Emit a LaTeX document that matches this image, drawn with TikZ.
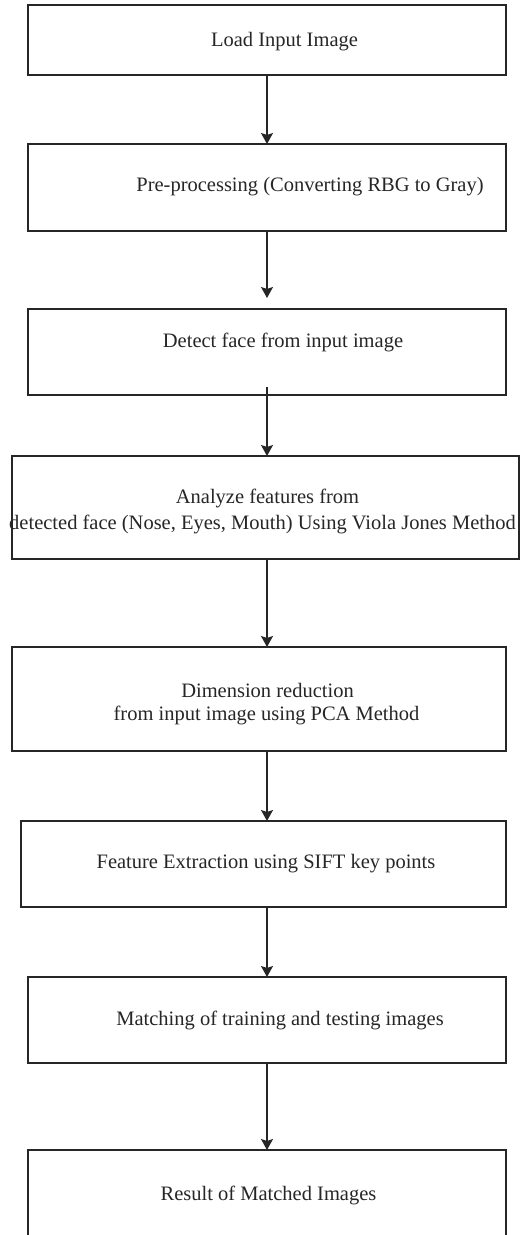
\documentclass[tikz,border=0pt]{standalone}
\usepackage{fontspec}
\setmainfont{Liberation Serif}
\usetikzlibrary{arrows.meta,calc}

\begin{document}
\begin{tikzpicture}[
  x=0.5pt, y=-0.5pt,
  stepbox/.style={draw=black!85, line width=0.7pt, rectangle, inner sep=0pt, outer sep=0pt},
  txt/.style={anchor=base, inner sep=0pt, text=black!85, font=\fontsize{10.25}{12}\selectfont},
  arr/.style={draw=black!85, line width=0.6pt, -{Stealth[length=5.5pt, width=6pt, inset=1pt]}}
]
% page area
\fill[white] (0,0) rectangle (520,1235);
\clip (0,0) rectangle (520,1235);

% axis of the connectors
\coordinate (ax) at (267,0);

% process boxes
\node[stepbox, minimum width=239pt,   minimum height=35pt]   (b1) at (267,40)     {};
\node[stepbox, minimum width=239pt,   minimum height=43.5pt] (b2) at (267,187.5)  {};
\node[stepbox, minimum width=239pt,   minimum height=43pt]   (b3) at (267,352)    {};
\node[stepbox, minimum width=253.5pt, minimum height=51.5pt] (b4) at (265.5,507.5){};
\node[stepbox, minimum width=247pt,   minimum height=52pt]   (b5) at (259,699)    {};
\node[stepbox, minimum width=242.5pt, minimum height=43pt]   (b6) at (263.5,864)  {};
\node[stepbox, minimum width=239pt,   minimum height=43pt]   (b7) at (267,1020)   {};
\node[stepbox, minimum width=239pt,   minimum height=50pt]   (b8) at (267,1200)   {};

% box texts
\node[txt] (t1)  at (284.5,47)  {Load Input Image};
\node[txt] (t2)  at (310,192)   {Pre-processing (Converting RBG to Gray)};
\node[txt] (t3)  at (283,348)   {Detect face from input image};
\node[txt] (t4a) at (267.5,503) {Analyze features from};
\node[txt] (t4b) at (262.5,529) {detected face (Nose, Eyes, Mouth) Using Viola Jones Method};
\node[txt] (t5a) at (267.5,697) {Dimension reduction};
\node[txt] (t5b) at (266.5,720) {from input image using PCA Method};
\node[txt] (t6)  at (266,868)   {Feature Extraction using SIFT key points};
\node[txt] (t7)  at (280,1025)  {Matching of training and testing images};
\node[txt] (t8)  at (268.5,1200){Result of Matched Images};

% connectors
\draw[arr] (b1.south -| ax) -- (b2.north -| ax);
\draw[arr] (b2.south -| ax) -- ($(b3.north -| ax)+(0,-11)$);
\draw[arr] ($(b3.south -| ax)+(0,-8)$) -- (b4.north -| ax);
\draw[arr] (b4.south -| ax) -- (b5.north -| ax);
\draw[arr] (b5.south -| ax) -- (b6.north -| ax);
\draw[arr] (b6.south -| ax) -- (b7.north -| ax);
\draw[arr] (b7.south -| ax) -- (b8.north -| ax);
\end{tikzpicture}
\end{document}
